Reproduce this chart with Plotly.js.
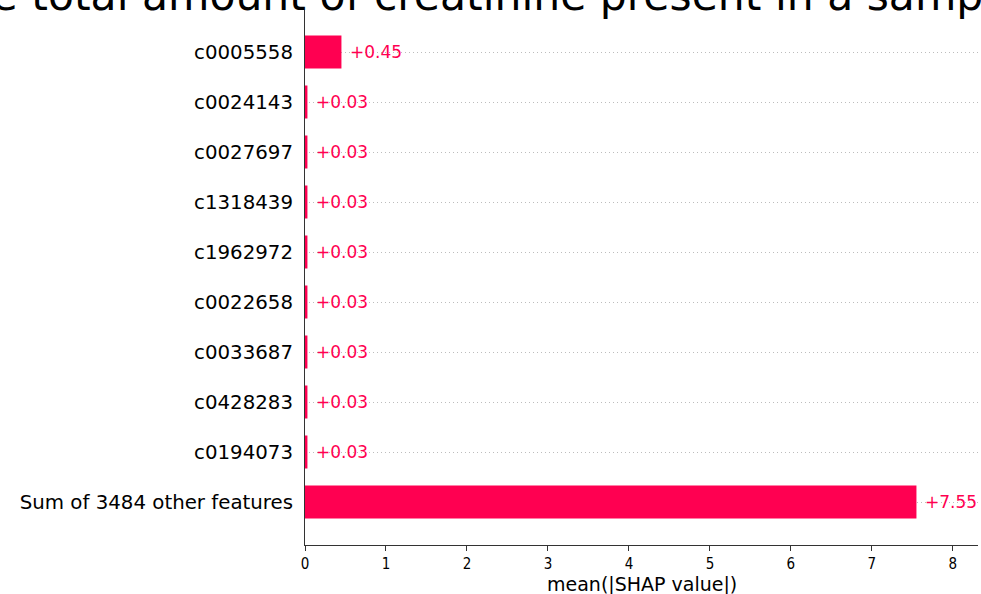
<!DOCTYPE html>
<html>
<head>
<meta charset="utf-8">
<script src="https://cdn.plot.ly/plotly-3.0.1.min.js"></script>
<style>html,body{margin:0;padding:0;background:#fff;}#chart{width:981px;height:594px;}</style>
</head>
<body>
<div id="chart"></div>
<script>
var features = ["c0005558","c0024143","c0027697","c1318439","c1962972","c0022658","c0033687","c0428283","c0194073","Sum of 3484 other features"];
var meanAbsShap = [0.45,0.03,0.03,0.03,0.03,0.03,0.03,0.03,0.03,7.55];
var valueLabels = ["+0.45","+0.03","+0.03","+0.03","+0.03","+0.03","+0.03","+0.03","+0.03","+7.55"];
var xTicks = [0,1,2,3,4,5,6,7,8];
var xTitle = "mean(|SHAP value|)";
var titleText = "the total amount of creatinine present in a sample";

var red = "#FF0051";
var trace = {
  type: "bar",
  orientation: "h",
  y: features,
  x: meanAbsShap,
  marker: {color: red, line: {width: 0}},
  width: 0.66,
  hoverinfo: "x+y"
};

var labelAnnotations = features.map(function (f, i) {
  return {
    text: valueLabels[i],
    x: meanAbsShap[i], y: f,
    xref: "x", yref: "y",
    xanchor: "left", yanchor: "middle",
    xshift: 7,
    showarrow: false,
    font: {family: "DejaVu Sans", size: 17, color: red}
  };
});

var layout = {
  width: 981, height: 594,
  margin: {l: 305, r: 3, t: 10, b: 49, pad: 0},
  paper_bgcolor: "#fff", plot_bgcolor: "#fff",
  showlegend: false,
  font: {family: "DejaVu Sans", color: "#000"},
  xaxis: {
    range: [0, 8.31],
    tickvals: xTicks,
    ticktext: xTicks.map(String),
    ticks: "outside", ticklen: 5, tickwidth: 1, tickcolor: "#333",
    tickfont: {family: "DejaVu Sans Condensed, DejaVu Sans", size: 15, color: "#000"},
    ticklabelstandoff: 0,
    showline: true, linecolor: "#333", linewidth: 1,
    showgrid: false, zeroline: false,
    fixedrange: true
  },
  yaxis: {
    type: "category",
    autorange: false,
    range: [9.86, -0.84],
    categoryorder: "array", categoryarray: features,
    ticks: "", ticklen: 0,
    tickfont: {family: "DejaVu Sans", size: 19.8, color: "#000"},
    ticklabelstandoff: 7,
    showline: true, linecolor: "#333", linewidth: 1,
    showgrid: true, gridcolor: "#bdbdbd", griddash: "1px,3px", gridwidth: 1,
    zeroline: false,
    fixedrange: true
  },
  annotations: labelAnnotations.concat([{
    text: xTitle,
    xref: "paper", yref: "paper",
    x: 0.5, xanchor: "center",
    y: 0, yanchor: "top", yshift: -26,
    showarrow: false,
    font: {family: "DejaVu Sans", size: 19, color: "#000"}
  }, {
    text: titleText,
    xref: "paper", yref: "paper",
    x: (-54 - 305) / 673, xanchor: "left",
    y: 1.0, yanchor: "bottom", yshift: -12,
    showarrow: false,
    font: {family: "DejaVu Sans", size: 42.5, color: "#000"}
  }])
};

Plotly.newPlot("chart", [trace], layout, {displayModeBar: false, staticPlot: true});
</script>
</body>
</html>
